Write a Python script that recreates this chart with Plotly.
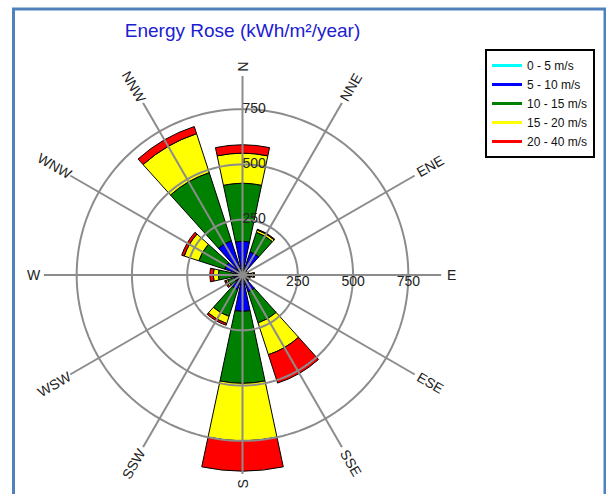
import math
import plotly.graph_objects as go

# ---------------- data ----------------
directions = ["N", "NNE", "ENE", "E", "ESE", "SSE", "S", "SSW", "WSW", "W", "WNW", "NNW"]
series_names = ["0 - 5 m/s", "5 - 10 m/s", "10 - 15 m/s", "15 - 20 m/s", "20 - 40 m/s"]
series_colors = ["#00FFFF", "#0000FF", "#008000", "#FFFF00", "#FF0000"]

s_0_5 = [5, 3, 2, 2, 2, 3, 5, 3, 2, 2, 3, 5]
s_5_10 = [148, 107, 15, 20, 15, 77, 160, 67, 38, 43, 82, 158]
s_10_15 = [262, 93, 8, 20, 10, 148, 325, 127, 30, 64, 123, 324]
s_15_20 = [136, 11, 2, 8, 5, 151, 260, 34, 8, 23, 69, 185]
s_20_40 = [38, 4, 1, 5, 5, 135, 137, 8, 7, 16, 12, 34]
series_values = [s_0_5, s_5_10, s_10_15, s_15_20, s_20_40]

radial_ticks = [250, 500, 750]
radial_max = 900
title_text = "Energy Rose (kWh/m²/year)"

# ---------------- geometry ----------------
W, H = 606, 494
CX, CY, R = 242.5, 275.0, 199.0          # polar centre / radius in pixels
n_dir = len(directions)
angles = [360.0 / n_dir * i for i in range(n_dir)]
bar_width = 360.0 / n_dir * 0.8

fig = go.Figure()

for name, color, vals in zip(series_names, series_colors, series_values):
    fig.add_trace(go.Barpolar(
        r=vals, theta=angles, width=[bar_width] * n_dir,
        marker=dict(color=color, line=dict(color="black", width=1)),
        name=name, showlegend=False, hoverinfo="skip"))

GRID = "#8C8C8C"
# grid circles drawn above the bars
for t in radial_ticks:
    th = list(range(0, 361, 2))
    fig.add_trace(go.Scatterpolar(r=[t] * len(th), theta=th, mode="lines",
                                  line=dict(color=GRID, width=2),
                                  showlegend=False, hoverinfo="skip"))
# spokes
sr, st = [], []
for a in angles:
    sr += [0, radial_max, None]
    st += [a, a, None]
fig.add_trace(go.Scatterpolar(r=sr, theta=st, mode="lines",
                              line=dict(color=GRID, width=2),
                              showlegend=False, hoverinfo="skip"))

# radial tick labels (along N and along E)
tick_txt = [str(t) for t in radial_ticks]
fig.add_trace(go.Scatterpolar(r=radial_ticks, theta=[angles[0]] * 3, mode="text",
                              text=tick_txt, textposition="middle right",
                              textfont=dict(family="Liberation Sans, Arial", size=14, color="#222"),
                              showlegend=False, hoverinfo="skip"))
fig.add_trace(go.Scatterpolar(r=radial_ticks, theta=[angles[3]] * 3, mode="text",
                              text=tick_txt, textposition="bottom center",
                              textfont=dict(family="Liberation Sans, Arial", size=14, color="#222"),
                              showlegend=False, hoverinfo="skip"))

# legend entries as lines
for name, color in zip(series_names, series_colors):
    fig.add_trace(go.Scatterpolar(r=[None], theta=[None], mode="lines",
                                  line=dict(color=color, width=3), name=name))

# direction labels, rotated
annotations = []
for d, a in zip(directions, angles):
    rr = R + 6 + 4 * len(d)
    x = CX + rr * math.sin(math.radians(a))
    y = CY - rr * math.cos(math.radians(a))
    rot = a - 90 if a < 180 else a - 270
    if a == 0:
        rot = 90
    annotations.append(dict(x=x / W, y=1 - y / H, xref="paper", yref="paper",
                            text=d, showarrow=False, textangle=rot,
                            xanchor="center", yanchor="middle",
                            font=dict(family="Liberation Sans, Arial", size=14, color="#222")))

fig.update_layout(
    width=W, height=H, autosize=False,
    margin=dict(l=0, r=0, t=0, b=0),
    paper_bgcolor="white",
    title=dict(text=title_text, x=CX / W, xanchor="center", y=1 - 30 / H, yanchor="middle",
               font=dict(family="Liberation Sans, Arial", size=19, color="#2020D0")),
    polar=dict(
        domain=dict(x=[(CX - R) / W, (CX + R) / W], y=[1 - (CY + R) / H, 1 - (CY - R) / H]),
        bgcolor="white",
        barmode="stack",
        angularaxis=dict(rotation=90, direction="clockwise", showticklabels=False,
                         showgrid=False, showline=False, ticks=""),
        radialaxis=dict(range=[0, radial_max], showticklabels=False, showgrid=False,
                        showline=False, ticks=""),
    ),
    legend=dict(x=485 / W, y=1 - 49 / H, xanchor="left", yanchor="top",
                bordercolor="black", borderwidth=2, bgcolor="white",
                font=dict(family="Liberation Sans, Arial", size=12, color="#111"),
                tracegroupgap=0),
    annotations=annotations,
    shapes=[dict(type="rect", xref="paper", yref="paper",
                 x0=13.5 / W, x1=605 / W, y0=-0.1, y1=1 - 9 / H,
                 line=dict(color="#4F81BD", width=3))],
)

fig.write_html("out.html", config={"displayModeBar": False},
               post_script="document.body.style.margin='0';document.body.style.overflow='hidden';")
